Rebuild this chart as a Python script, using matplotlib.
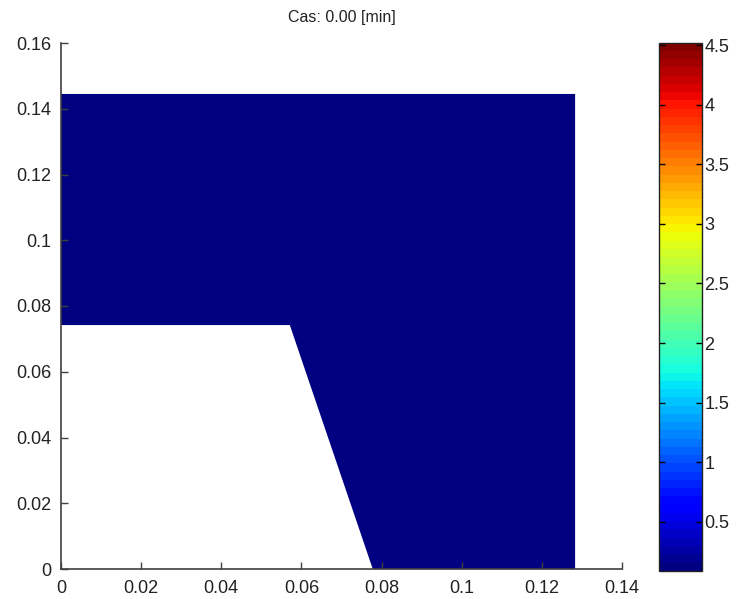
import numpy as np
import matplotlib
matplotlib.use('Agg')
import matplotlib.pyplot as plt
from matplotlib.collections import PolyCollection
from matplotlib.colors import Normalize
from matplotlib.ticker import FormatStrFormatter
import matplotlib.cm as cm

# domain outline (x, y in m) and the value painted on it
poly_x = [0.0, 0.0571, 0.0778, 0.1283, 0.1283, 0.0]
poly_y = [0.0742, 0.0742, 0.0, 0.0, 0.1445, 0.1445]
poly_value = 0.09

c_min, c_max = 0.09, 4.52
cbar_ticks = [0.5, 1, 1.5, 2, 2.5, 3, 3.5, 4, 4.5]
x_ticks = [0, 0.02, 0.04, 0.06, 0.08, 0.1, 0.12, 0.14]
y_ticks = [0, 0.02, 0.04, 0.06, 0.08, 0.1, 0.12, 0.14, 0.16]
title = 'Cas: 0.00 [min]'

plt.rcParams['font.family'] = ['Liberation Sans', 'DejaVu Sans']
fs = 13

fig = plt.figure(figsize=(7.38, 5.99), dpi=100)
W, H = 738.0, 599.0
ax = fig.add_axes([61 / W, 1 - 569 / H, (622 - 61) / W, (569 - 43) / H])
cax = fig.add_axes([658.5 / W, 1 - 570.7 / H, 43 / W, (570.7 - 42.7) / H])

cmap = plt.get_cmap('jet', 64)
norm = Normalize(vmin=c_min, vmax=c_max)

coll = PolyCollection([np.column_stack([poly_x, poly_y])], cmap=cmap, norm=norm,
                      edgecolors='none', antialiased=True)
coll.set_array(np.array([poly_value]))
ax.add_collection(coll)

ax.set_xlim(0, 0.14)
ax.set_ylim(0, 0.16)
ax.set_xticks(x_ticks)
ax.set_yticks(y_ticks)
ax.xaxis.set_major_formatter(FormatStrFormatter('%g'))
ax.yaxis.set_major_formatter(FormatStrFormatter('%g'))
ax.tick_params(direction='in', length=5, width=1, color='#404040',
               labelsize=fs, pad=7, labelcolor='#222222')
ax.tick_params(axis='x', pad=8)
for s in ['top', 'right']:
    ax.spines[s].set_visible(False)
for s in ['left', 'bottom']:
    ax.spines[s].set_color('#404040')
    ax.spines[s].set_linewidth(1.2)
ax.set_title(title, fontsize=fs - 1.5, pad=15, color='#222222')

sm = cm.ScalarMappable(norm=norm, cmap=cmap)
cb = fig.colorbar(sm, cax=cax, ticks=cbar_ticks)
cb.ax.yaxis.set_major_formatter(FormatStrFormatter('%g'))
cb.ax.tick_params(direction='in', length=4, width=1, labelsize=fs, pad=2,
                  left=True, right=True, labelcolor='#222222')
cb.outline.set_linewidth(1)
cb.outline.set_edgecolor('#222222')

fig.savefig('out.png', dpi=100, facecolor='white')
